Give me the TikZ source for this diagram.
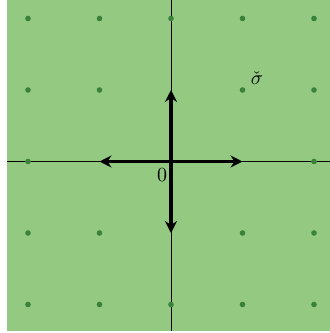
\documentclass[tikz,border=0pt]{standalone}
\usetikzlibrary{arrows.meta}
\definecolor{bg}{RGB}{148,201,130}
\definecolor{dotc}{RGB}{58,130,58}
\begin{document}
\begin{tikzpicture}[x=0.5pt,y=-0.5pt,
  axis/.style={line width=0.5pt,black},
  vec/.style={line width=1.6pt,black,-{Stealth[length=6pt,width=6pt,inset=2pt]}},
  latdot/.style={circle,fill=dotc,inner sep=0pt,minimum size=2.8pt}]
\useasboundingbox (0,0) rectangle (330,333);
\fill[bg] (7,0) rectangle (330,331);
\coordinate (O) at (171,161.5);
\coordinate (L) at (7,161.5);
\coordinate (R) at (330,161.5);
\coordinate (T) at (171,0);
\coordinate (B) at (171,331);
\draw[axis] (L) -- (R);
\draw[axis] (T) -- (B);
\foreach \i in {-2,...,2}{
  \foreach \j in {-2,...,2}{
    \pgfmathtruncatemacro{\s}{abs(\i)+abs(\j)}
    \ifnum\s>1
      \node[latdot] (d\i\j) at (171+71.5*\i,161.5+71.5*\j) {};
    \fi
  }
}
\coordinate (pL) at (99.5,161.5);
\coordinate (pR) at (242.5,161.5);
\coordinate (pU) at (171,90);
\coordinate (pD) at (171,233);
\draw[vec] (O) -- (pL);
\draw[vec] (O) -- (pR);
\draw[vec] (O) -- (pU);
\draw[vec] (O) -- (pD);
\node (zero) at (162,175.5) {$0$};
\node (sig) at (257,78) {$\check{\sigma}$};
\end{tikzpicture}
\end{document}
